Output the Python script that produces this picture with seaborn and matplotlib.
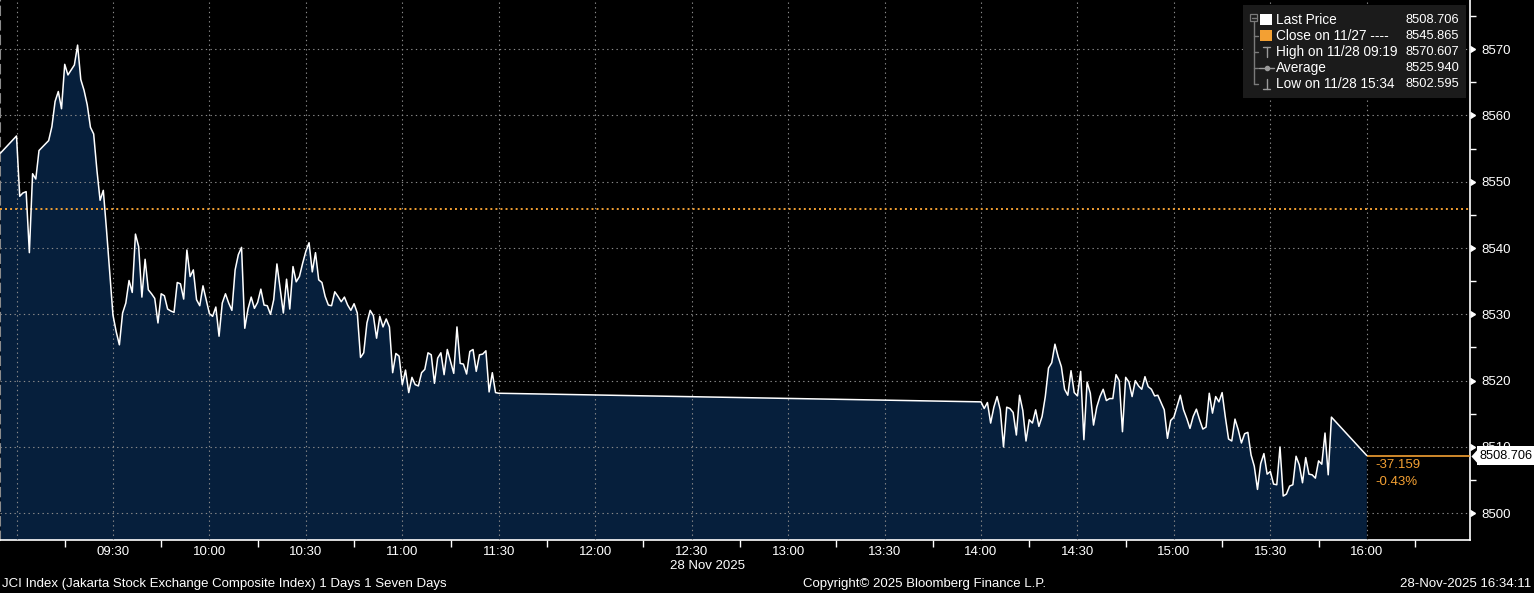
import matplotlib
matplotlib.use("Agg")
import matplotlib.pyplot as plt
from matplotlib.patches import Rectangle
from matplotlib.lines import Line2D
from matplotlib.transforms import offset_copy
import seaborn as sns
import pandas as pd

# ---- data ----
day = "2025-11-28"

times = [
    "08:55", "09:00", "09:01", "09:02", "09:03", "09:04", "09:05", "09:06", "09:07", "09:08",
    "09:10", "09:11", "09:12", "09:13", "09:14", "09:15", "09:16", "09:18", "09:19", "09:20",
    "09:21", "09:22", "09:23", "09:24", "09:25", "09:26", "09:27", "09:28", "09:30", "09:31",
    "09:32", "09:33", "09:34", "09:35", "09:36", "09:37", "09:38", "09:39", "09:40", "09:41",
    "09:42", "09:43", "09:44", "09:45", "09:46", "09:47", "09:48", "09:49", "09:50", "09:51",
    "09:52", "09:53", "09:54", "09:55", "09:56", "09:57", "09:58", "09:59", "10:00", "10:01",
    "10:02", "10:03", "10:04", "10:05", "10:06", "10:07", "10:08", "10:09", "10:10", "10:11",
    "10:12", "10:13", "10:14", "10:15", "10:16", "10:17", "10:18", "10:19", "10:20", "10:21",
    "10:23", "10:24", "10:25", "10:26", "10:27", "10:28", "10:29", "10:30", "10:31", "10:32",
    "10:33", "10:34", "10:35", "10:36", "10:37", "10:38", "10:39", "10:40", "10:41", "10:42",
    "10:43", "10:44", "10:45", "10:46", "10:47", "10:48", "10:49", "10:50", "10:51", "10:52",
    "10:53", "10:54", "10:55", "10:56", "10:57", "10:58", "10:59", "11:00", "11:01", "11:02",
    "11:03", "11:04", "11:05", "11:06", "11:07", "11:08", "11:09", "11:10", "11:11", "11:12",
    "11:13", "11:14", "11:15", "11:16", "11:17", "11:18", "11:19", "11:20", "11:21", "11:22",
    "11:23", "11:24", "11:25", "11:26", "11:27", "11:28", "11:29", "11:30",
    "14:00", "14:01", "14:02", "14:03", "14:04", "14:05", "14:06", "14:07", "14:08", "14:09",
    "14:10", "14:11", "14:12", "14:13", "14:14", "14:15", "14:16", "14:17", "14:18", "14:19",
    "14:20", "14:21", "14:22", "14:23", "14:24", "14:25", "14:26", "14:27", "14:28", "14:29",
    "14:30", "14:31", "14:32", "14:33", "14:34", "14:35", "14:36", "14:37", "14:38", "14:39",
    "14:40", "14:41", "14:42", "14:43", "14:44", "14:45", "14:46", "14:47", "14:48", "14:49",
    "14:50", "14:51", "14:52", "14:53", "14:54", "14:55", "14:57", "14:58", "14:59", "15:00",
    "15:02", "15:03", "15:04", "15:05", "15:06", "15:07", "15:08", "15:09", "15:10", "15:11",
    "15:12", "15:13", "15:14", "15:15", "15:16", "15:17", "15:18", "15:19", "15:20", "15:21",
    "15:22", "15:23", "15:24", "15:25", "15:26", "15:27", "15:28", "15:29", "15:30", "15:31",
    "15:32", "15:33", "15:34", "15:35", "15:36", "15:37", "15:38", "15:39", "15:40", "15:41",
    "15:42", "15:43", "15:44", "15:45", "15:46", "15:47", "15:48", "15:49", "16:00",
]

prices = [
    8554.3, 8556.9, 8547.8, 8548.3, 8548.5, 8539.3, 8551.2, 8550.4, 8554.7, 8555.2,
    8556.2, 8558.3, 8562.1, 8563.6, 8561.0, 8567.7, 8566.1, 8567.6, 8570.6, 8565.4,
    8563.8, 8561.6, 8558.2, 8557.2, 8551.8, 8547.2, 8548.7, 8542.7, 8529.9, 8527.4,
    8525.4, 8530.2, 8531.7, 8535.1, 8533.3, 8542.1, 8540.2, 8532.6, 8538.3, 8533.7,
    8533.1, 8532.4, 8528.7, 8533.1, 8532.8, 8530.8, 8530.5, 8530.3, 8534.8, 8534.6,
    8532.3, 8539.7, 8535.7, 8536.7, 8532.2, 8531.3, 8534.3, 8532.2, 8530.1, 8529.7,
    8531.1, 8526.7, 8531.7, 8533.1, 8531.7, 8530.6, 8536.7, 8539.0, 8540.1, 8527.9,
    8530.8, 8532.6, 8530.9, 8531.8, 8533.8, 8531.4, 8531.3, 8530.0, 8532.2, 8537.6,
    8530.2, 8535.3, 8530.8, 8537.2, 8534.9, 8535.7, 8537.7, 8539.5, 8540.8, 8536.4,
    8539.3, 8535.2, 8534.8, 8532.7, 8531.4, 8531.3, 8533.4, 8532.7, 8531.9, 8532.6,
    8531.4, 8530.6, 8531.6, 8530.2, 8523.5, 8524.2, 8528.7, 8530.6, 8529.8, 8526.4,
    8529.7, 8528.1, 8529.3, 8528.1, 8521.2, 8524.1, 8523.7, 8519.4, 8521.6, 8518.2,
    8520.5, 8519.4, 8519.2, 8521.2, 8521.7, 8524.2, 8523.9, 8519.6, 8523.4, 8524.2,
    8520.9, 8524.7, 8522.9, 8521.1, 8528.1, 8522.6, 8522.5, 8521.0, 8524.4, 8524.7,
    8521.4, 8523.9, 8524.0, 8524.5, 8518.3, 8521.2, 8518.2, 8518.1,
    8516.8, 8515.8, 8516.7, 8513.6, 8516.0, 8517.6, 8515.6, 8510.0, 8516.0, 8515.8,
    8515.2, 8511.8, 8517.8, 8515.5, 8510.9, 8514.1, 8513.6, 8515.6, 8513.1, 8514.6,
    8517.6, 8521.9, 8522.7, 8525.5, 8523.6, 8522.1, 8518.7, 8517.8, 8521.5, 8518.2,
    8517.7, 8521.4, 8511.1, 8519.8, 8518.1, 8513.3, 8516.0, 8517.6, 8518.7, 8517.0,
    8517.3, 8517.3, 8520.9, 8520.0, 8512.3, 8520.5, 8519.8, 8517.6, 8520.0, 8519.2,
    8518.7, 8520.6, 8519.1, 8518.7, 8517.7, 8517.8, 8515.6, 8511.3, 8514.0, 8514.5,
    8517.8, 8515.6, 8514.3, 8512.8, 8514.6, 8515.7, 8514.1, 8512.7, 8513.0, 8518.1,
    8515.1, 8517.6, 8516.8, 8518.2, 8514.5, 8511.2, 8510.9, 8514.2, 8512.6, 8510.6,
    8512.0, 8512.2, 8508.8, 8507.1, 8503.6, 8507.5, 8509.0, 8505.9, 8506.3, 8504.4,
    8504.3, 8510.0, 8502.6, 8502.9, 8504.1, 8504.3, 8508.6, 8507.3, 8504.6, 8508.4,
    8505.9, 8505.8, 8505.3, 8507.9, 8507.4, 8512.1, 8505.8, 8514.5, 8508.706,
]

prev_close = 8545.865
last_price = 8508.706
high_price = 8570.607
avg_price = 8525.940
low_price = 8502.595
net_change = -37.159
pct_change = -0.43

x_major = ["09:00", "09:30", "10:00", "10:30", "11:00", "11:30", "12:00", "12:30",
           "13:00", "13:30", "14:00", "14:30", "15:00", "15:30", "16:00"]
x_minor = ["09:15", "09:45", "10:15", "10:45", "11:15", "11:45", "12:15", "12:45",
           "13:15", "13:45", "14:15", "14:45", "15:15", "15:45", "16:15"]
y_major = [8500, 8510, 8520, 8530, 8540, 8550, 8560, 8570]
y_minor = [8505, 8515, 8525, 8535, 8545, 8555, 8565, 8575]

legend_labels = ["Last Price", "Close on 11/27 ---- ", "High on 11/28 09:19",
                 "Average", "Low on 11/28 15:34"]
legend_values = [last_price, prev_close, high_price, avg_price, low_price]

# ---- styling ----
W, H = 1534, 593
NAVY = "#061f3c"
ORANGE = "#f3a033"
GRID = "#8c8c8c"
TREE = "#7a7a7a"

sns.set_theme(style="dark", rc={"axes.facecolor": "black", "figure.facecolor": "black"})
plt.rcParams["font.family"] = ["Liberation Sans", "DejaVu Sans"]


def px(x, y):
    # pixel position in the picture -> figure fraction
    return x / W, 1 - y / H


df = pd.DataFrame({"time": pd.to_datetime([f"{day} {t}" for t in times]), "price": prices})

fig = plt.figure(figsize=(W / 100, H / 100), dpi=100)
ax = fig.add_axes([0, 1 - 540 / H, 1470 / W, 540 / H])

ax.fill_between(df["time"], df["price"], 8480, color=NAVY, lw=0, zorder=1)
sns.lineplot(data=df, x="time", y="price", ax=ax, color="white", lw=1.1, zorder=4)

ax.set_xlim(pd.Timestamp(f"{day} 08:54:52"), pd.Timestamp(f"{day} 16:32:06"))
ax.set_ylim(8495.97, 8577.4)
ax.set_xlabel("")
ax.set_ylabel("")

# previous close and last price lines
ax.axhline(prev_close, color=ORANGE, ls=(0, (1, 1.6)), lw=1.4, zorder=3)
t_last = df["time"].iloc[-1]
ax.hlines(last_price, t_last, ax.get_xlim()[1], color=ORANGE, lw=1.2, zorder=3)

# grid
ax.set_axisbelow(False)
ax.grid(True, which="major", color=GRID, ls=(0, (1.2, 3)), lw=0.8)

# x axis
ax.set_xticks(pd.to_datetime([f"{day} {t}" for t in x_major]))
ax.set_xticklabels([""] + x_major[1:])
ax.set_xticks(pd.to_datetime([f"{day} {t}" for t in x_minor]), minor=True)
ax.tick_params(axis="x", which="major", length=0, pad=4, labelcolor="white", labelsize=9.5)
ax.tick_params(axis="x", which="minor", length=5, width=1, color="white", direction="out", bottom=True)

# y axis on the right
ax.yaxis.tick_right()
ax.set_yticks(y_major)
ax.set_yticks(y_minor, minor=True)
ax.tick_params(axis="y", which="major", length=0, pad=8, labelcolor="white", labelsize=9.5)
ax.tick_params(axis="y", which="minor", length=4, width=1, color="white", direction="out",
               right=True, left=False)
ax.plot([1] * len(y_major), y_major, ls="none", marker=9, ms=5, color="white",
        transform=ax.get_yaxis_transform(), clip_on=False, zorder=5)

ax.spines["top"].set_visible(False)
ax.spines["bottom"].set_color("white")
ax.spines["right"].set_color("white")
ax.spines["bottom"].set_linewidth(1.2)
ax.spines["right"].set_linewidth(1.2)
ax.spines["left"].set_color(GRID)
ax.spines["left"].set_linestyle((0, (4, 3)))
ax.spines["left"].set_linewidth(1.5)

# last price tag on the axis
ax.annotate(f"{last_price:.3f}", xy=(1, last_price), xycoords=ax.get_yaxis_transform(),
            xytext=(10, 0), textcoords="offset pixels", ha="left", va="center",
            color="black", fontsize=9.2, annotation_clip=False, zorder=10,
            bbox=dict(boxstyle="square,pad=0.25", fc="white", ec="none"))
ax.plot([1], [last_price], ls="none", marker=[(-0.45, 0), (0.45, 1), (0.45, -1)], ms=13,
        color="white", mec="none",
        transform=offset_copy(ax.get_yaxis_transform(), fig=fig, x=5, units="dots"),
        clip_on=False, zorder=10)

# net and percent change
ax.annotate(f"{net_change:.3f}", xy=(t_last, last_price), xytext=(9, -9),
            textcoords="offset pixels", ha="left", va="center", color=ORANGE, fontsize=9.5)
ax.annotate(f"{pct_change:.2f}%", xy=(t_last, last_price), xytext=(9, -26),
            textcoords="offset pixels", ha="left", va="center", color=ORANGE, fontsize=9.5)

# ---- legend box (Bloomberg style) ----
x0, y0 = px(1243, 98)
x1, y1 = px(1466, 5)
fig.add_artist(Rectangle((x0, y0), x1 - x0, y1 - y0, transform=fig.transFigure,
                         fc="#1b1b1b", ec="none", zorder=5))
rows = [20, 36, 52, 68, 84]
for label, value, ry in zip(legend_labels, legend_values, rows):
    fig.text(*px(1276, ry), label, color="white", fontsize=9.8, va="center", ha="left", zorder=7)
    fig.text(*px(1459, ry), f"{value:.3f}", color="white", fontsize=9.3, va="center",
             ha="right", zorder=7)


def seg(xa, ya, xb, yb, color=TREE, lw=1.0):
    (fa, ga), (fb, gb) = px(xa, ya), px(xb, yb)
    fig.add_artist(Line2D([fa, fb], [ga, gb], transform=fig.transFigure, color=color,
                          lw=lw, zorder=6))


# tree on the left of the legend
bx, by = px(1250, 21)
fig.add_artist(Rectangle((bx, by), 7 / W, 7 / H, transform=fig.transFigure,
                         fc="none", ec=TREE, lw=0.9, zorder=6))
seg(1251.5, 17.5, 1255.5, 17.5)
seg(1253.5, 21, 1253.5, 84)
for ry in rows[1:]:
    seg(1253.5, ry, 1258, ry)

# icons
fig.add_artist(Rectangle(px(1260, 25), 12 / W, 11 / H, transform=fig.transFigure,
                         fc="white", ec="none", zorder=6))
fig.add_artist(Rectangle(px(1260, 41), 12 / W, 11 / H, transform=fig.transFigure,
                         fc=ORANGE, ec="none", zorder=6))
seg(1263, 47, 1270, 47, color="#9a9a9a")
seg(1266.5, 47, 1266.5, 57, color="#9a9a9a")
seg(1259, 68, 1274, 68, color="#9a9a9a")
fig.add_artist(Line2D([px(1266.5, 68)[0]], [px(1266.5, 68)[1]], transform=fig.transFigure,
                      marker="o", ms=3, color="#9a9a9a", zorder=6))
seg(1266.5, 79, 1266.5, 89, color="#9a9a9a")
seg(1263, 89, 1270, 89, color="#9a9a9a")

# ---- footer texts ----
fig.text(*px(708, 566), "28 Nov 2025", color="white", fontsize=9.5, ha="center", va="center")
fig.text(*px(2, 584), "JCI Index (Jakarta Stock Exchange Composite Index) 1 Days 1 Seven Days",
         color="white", fontsize=9.5, ha="left", va="center")
fig.text(*px(803, 584), "Copyright\u00a9 2025 Bloomberg Finance L.P.", color="white",
         fontsize=9.5, ha="left", va="center")
fig.text(*px(1531, 584), "28-Nov-2025 16:34:11", color="white", fontsize=9.5,
         ha="right", va="center")

fig.savefig("out.png", dpi=100, facecolor="black")
